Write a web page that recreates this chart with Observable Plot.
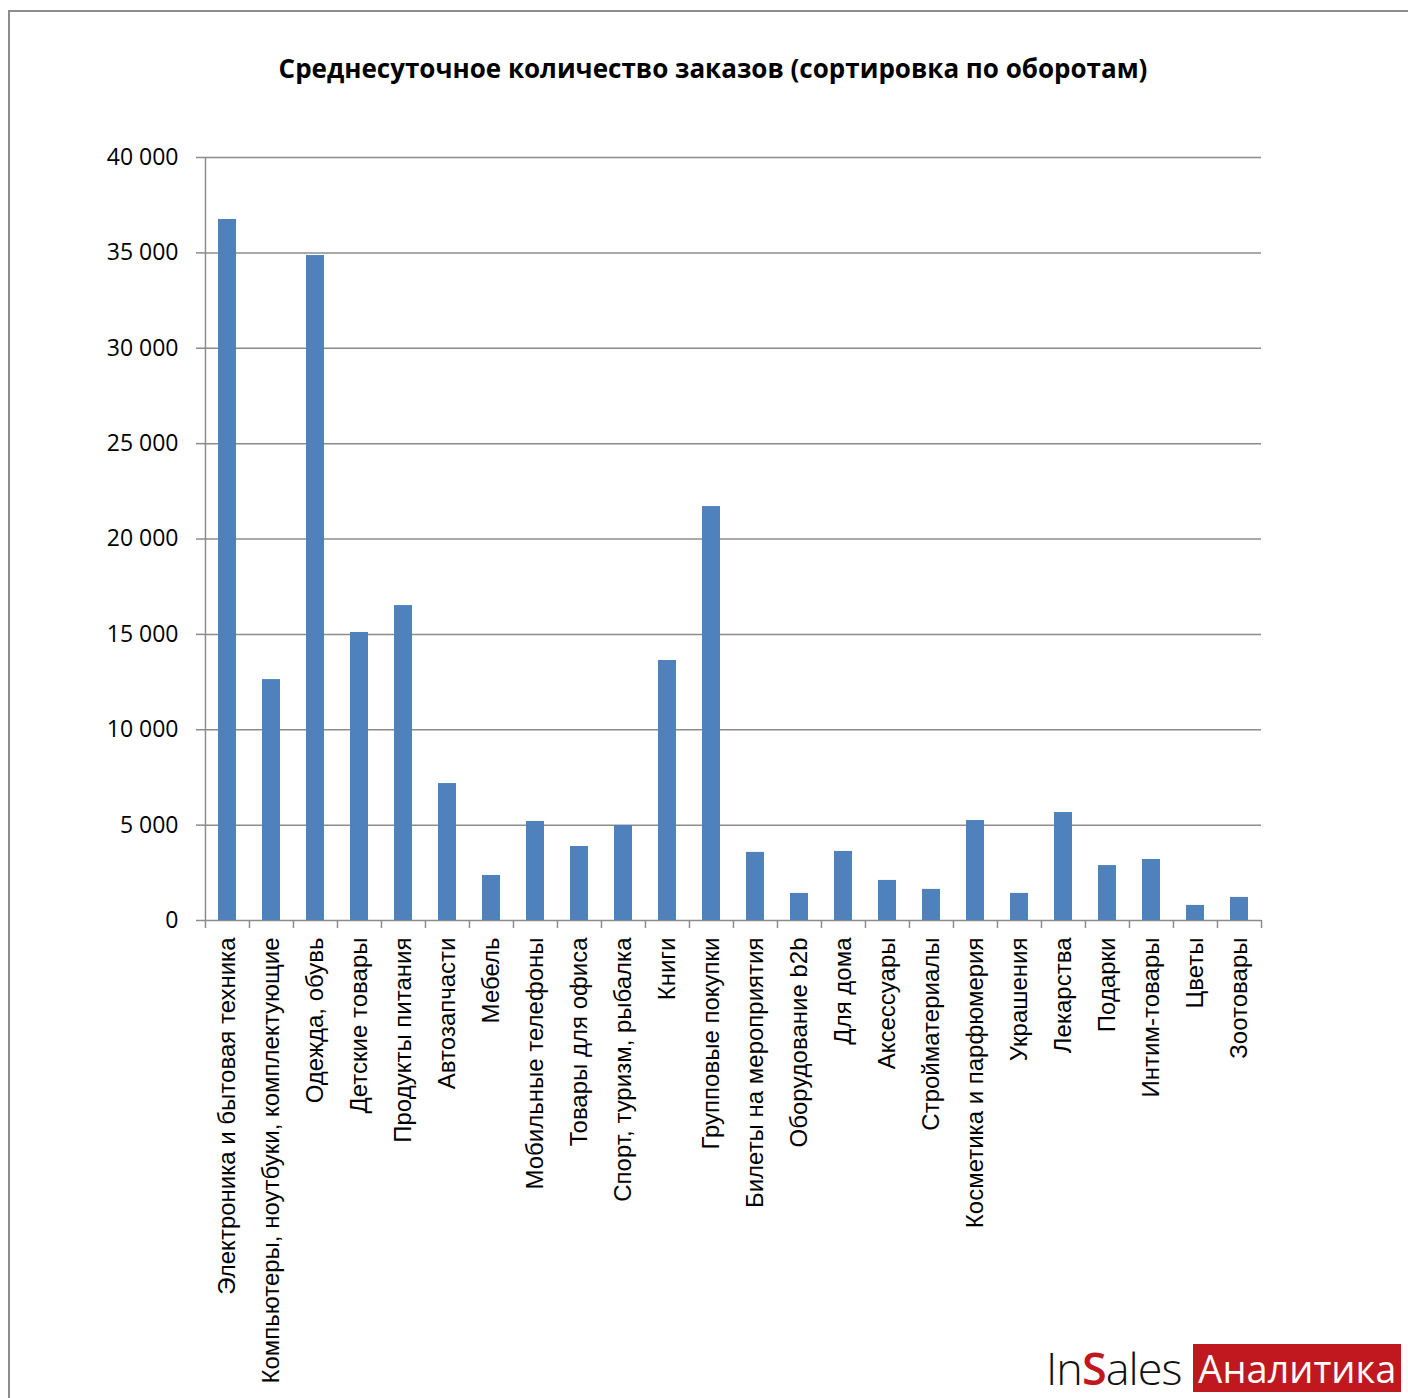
<!DOCTYPE html>
<html>
<head>
<meta charset="utf-8">
<script src="https://cdn.jsdelivr.net/npm/d3@7"></script>
<script src="https://cdn.jsdelivr.net/npm/@observablehq/plot@0.6"></script>
<style>
  html, body { margin: 0; padding: 0; background: #fff; }
  #wrap { position: relative; width: 1408px; height: 1398px; overflow: hidden; }
  #frame { position: absolute; left: 8px; top: 10px; width: 1420px; height: 1420px; border: 2px solid #8c8c8c; box-sizing: border-box; }
  #title { position: absolute; left: 0; width: 1426px; top: 50px; text-align: center; font-family: "Open Sans", sans-serif; font-weight: 700; font-size: 26px; color: #000; }
  #chart { position: absolute; left: 0; top: 0; }
  #logo { position: absolute; left: 1046px; top: 1343px; height: 50px; display: flex; align-items: center; }
  #logo .ins { font-family: "Open Sans", sans-serif; font-weight: 300; font-size: 45px; color: #111; letter-spacing: -1px; line-height: 50px; }
  #logo .ins b { color: #c0181e; font-weight: 600; }
  #logo .box { margin-left: 12px; background: #c0181e; color: #fff; font-family: "Open Sans", sans-serif; font-size: 38px; line-height: 48px; padding: 0 5px; height: 48px; }
</style>
</head>
<body>
<div id="wrap">
  <div id="chart"></div>
  <div id="frame"></div>
  <div id="title">Среднесуточное количество заказов (сортировка по оборотам)</div>
  <div id="logo"><span class="ins">In<b>S</b>ales</span><span class="box">Аналитика</span></div>
</div>
<script>
const categories = [
  "Электроника и бытовая техника",
  "Компьютеры, ноутбуки, комплектующие",
  "Одежда, обувь",
  "Детские товары",
  "Продукты питания",
  "Автозапчасти",
  "Мебель",
  "Мобильные телефоны",
  "Товары для офиса",
  "Спорт, туризм, рыбалка",
  "Книги",
  "Групповые покупки",
  "Билеты на мероприятия",
  "Оборудование b2b",
  "Для дома",
  "Аксессуары",
  "Стройматериалы",
  "Косметика и парфюмерия",
  "Украшения",
  "Лекарства",
  "Подарки",
  "Интим-товары",
  "Цветы",
  "Зоотовары"
];
const orders = [
  36750, 12630, 34860, 15100, 16510, 7180, 2360, 5190, 3880, 4980,
  13630, 21700, 3570, 1420, 3620, 2100, 1630, 5240, 1420, 5660,
  2880, 3200, 790, 1210
];
const yTicks = [0, 5000, 10000, 15000, 20000, 25000, 30000, 35000, 40000];

const data = categories.map((c, i) => ({category: c, value: orders[i]}));
const fmt = v => d3.format(",")(v).replace(/,/g, " ");

const W = 1408, H = 1398;
const mL = 204, mR = 147, mT = 157, mB = 478;
const step = (W - mL - mR) / categories.length;
const tickLen = 8 / (H - mT - mB) * 40000;

const chart = Plot.plot({
  width: W,
  height: H,
  marginLeft: mL,
  marginRight: mR,
  marginTop: mT,
  marginBottom: mB,
  style: { background: "transparent", overflow: "visible" },
  x: { domain: categories, padding: 0, label: null },
  y: { domain: [0, 40000], label: null },
  marks: [
    Plot.ruleY(yTicks, { y: d => d, stroke: "#8c8c8c", strokeWidth: 1.5 }),
    Plot.barY(data, { x: "category", y: "value", fill: "#4f81bd", insetLeft: 13, insetRight: 13 }),
    Plot.ruleX([categories[0]], { x: d => d, dx: -step / 2, y1: 0, y2: 40000, stroke: "#8c8c8c", strokeWidth: 1.5 }),
    Plot.ruleX(categories, { x: d => d, dx: -step / 2, y1: 0, y2: -tickLen, stroke: "#8c8c8c", strokeWidth: 1.5 }),
    Plot.ruleX([categories[categories.length - 1]], { x: d => d, dx: step / 2, y1: 0, y2: -tickLen, stroke: "#8c8c8c", strokeWidth: 1.5 }),
    Plot.axisY({
      ticks: yTicks, tickFormat: fmt, tickSize: 8, tickPadding: 18,
      stroke: "#8c8c8c", strokeWidth: 1.5,
      fontSize: 23, fontFamily: "Open Sans, sans-serif", fill: "#000", label: null
    }),
    Plot.axisX({
      tickSize: 0, tickPadding: 17, tickRotate: -90,
      fontSize: 24, fontFamily: "Liberation Sans, Arial, sans-serif", fill: "#000", label: null
    })
  ]
});
document.getElementById("chart").appendChild(chart);
</script>
</body>
</html>
